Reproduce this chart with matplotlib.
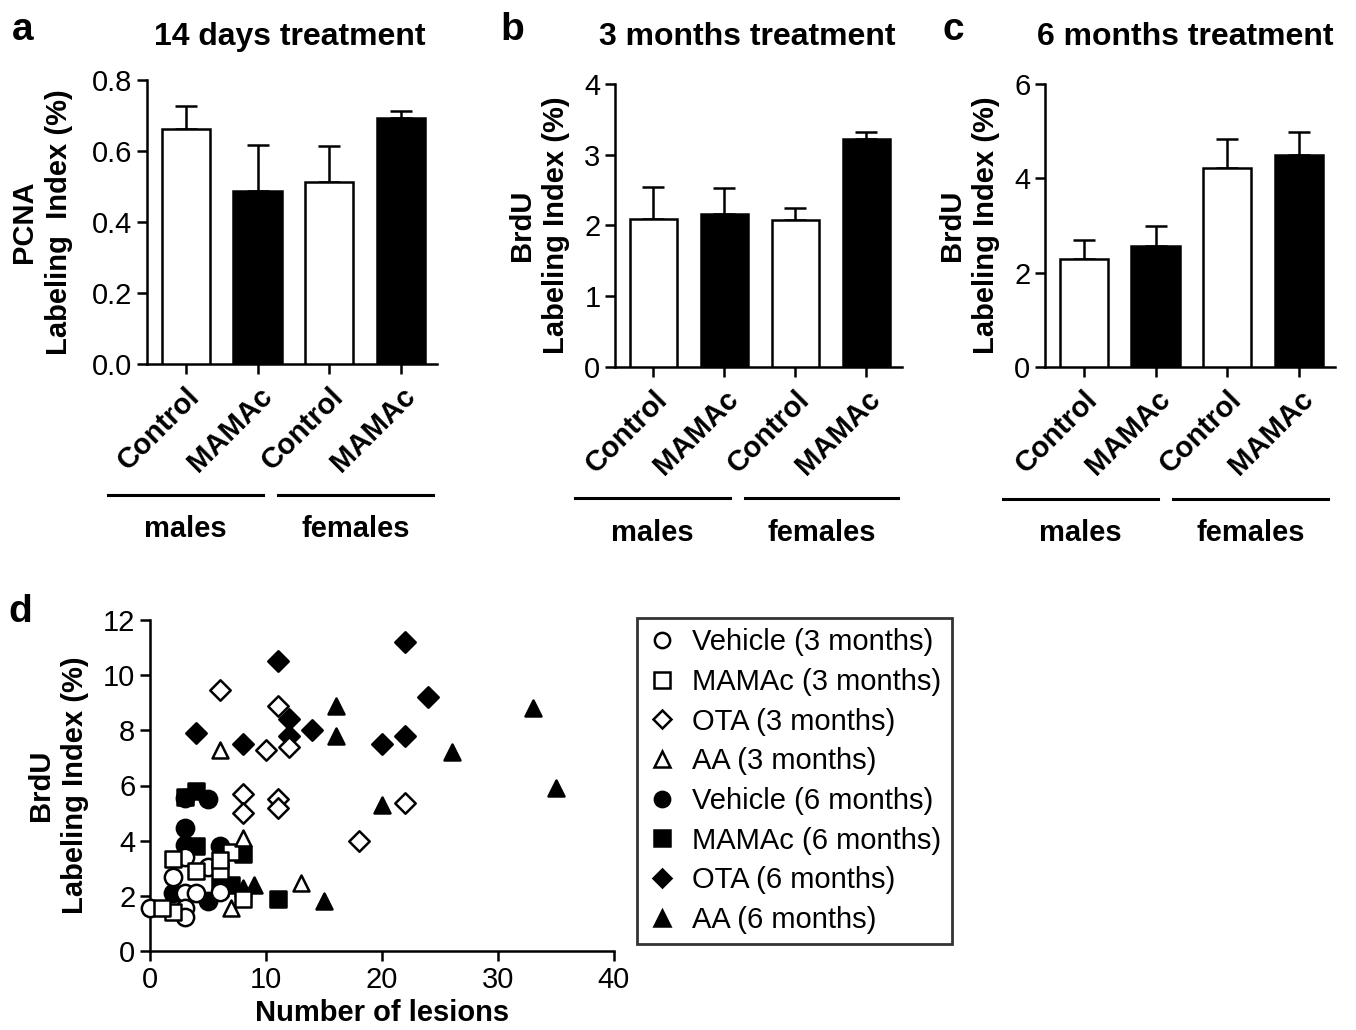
import matplotlib
matplotlib.use("Agg")
import matplotlib.pyplot as plt
from matplotlib.lines import Line2D

plt.rcParams['font.family'] = ['Liberation Sans', 'DejaVu Sans']

# ---------------- data ----------------
bar_labels = ["Control", "MAMAc", "Control", "MAMAc"]
bar_fill = ["white", "black", "white", "black"]

a_vals = [0.662, 0.488, 0.514, 0.692]
a_err = [0.066, 0.128, 0.099, 0.020]
b_vals = [2.085, 2.16, 2.075, 3.217]
b_err = [0.46, 0.37, 0.175, 0.108]
c_vals = [2.29, 2.57, 4.21, 4.49]
c_err = [0.40, 0.42, 0.63, 0.49]

veh3_x = [0, 2, 3, 5, 3, 3, 3, 6, 4]
veh3_y = [1.55, 2.7, 3.4, 3.05, 2.1, 1.55, 1.25, 2.15, 2.1]
mam3_x = [2, 4, 6, 7, 8, 2, 1, 6]
mam3_y = [3.35, 2.9, 2.9, 3.6, 1.9, 1.4, 1.55, 3.3]
ota3_x = [6, 11, 10, 12, 8, 8, 11, 11, 18, 22]
ota3_y = [9.45, 8.9, 7.3, 7.4, 5.7, 5.0, 5.5, 5.2, 4.0, 5.35]
aa3_x = [6, 13, 8, 7]
aa3_y = [7.3, 2.45, 4.1, 1.55]
veh6_x = [3, 5, 3, 3, 6, 5, 2]
veh6_y = [5.55, 5.5, 4.45, 3.85, 3.8, 1.8, 2.1]
mam6_x = [4, 3, 4, 8, 11, 7, 6]
mam6_y = [5.8, 5.6, 3.8, 3.5, 1.9, 2.4, 2.3]
ota6_x = [4, 11, 8, 12, 12, 14, 22, 24, 20, 22]
ota6_y = [7.9, 10.5, 7.5, 8.4, 7.8, 8.0, 11.2, 9.2, 7.5, 7.8]
aa6_x = [16, 16, 20, 26, 33, 35, 15, 9, 8]
aa6_y = [8.9, 7.8, 5.3, 7.2, 8.8, 5.9, 1.8, 2.4, 2.3]

W, H = 1356, 1030
fig = plt.figure(figsize=(W / 100, H / 100), dpi=100)

LW = 1.8
TICK_FS = 21
LAB_FS = 21


def fx(px):
    return px / W


def fy(py):
    return 1 - py / H


def bar_panel(rect, vals, errs, ylim, yticks, yfmt, title, title_x, ylabel,
              ylabelpad, letter, letter_xy, line_y, males_line, females_line,
              text_y):
    ax = fig.add_axes(rect)
    x = list(range(len(vals)))
    ax.bar(x, vals, width=0.67, color=bar_fill, edgecolor="black",
           linewidth=LW, zorder=3)
    ax.errorbar(x, vals, yerr=[[0] * len(errs), errs], fmt="none",
                ecolor="black", elinewidth=LW, capsize=8, capthick=LW,
                zorder=2)
    ax.set_xlim(-0.54, 3.5)
    ax.set_ylim(*ylim)
    ax.set_yticks(yticks)
    ax.set_yticklabels([yfmt.format(v) for v in yticks])
    ax.set_xticks(x)
    ax.set_xticklabels(bar_labels, rotation=45, ha="right", va="top",
                       rotation_mode="anchor", fontweight="bold",
                       fontsize=22)
    for s in ("top", "right"):
        ax.spines[s].set_visible(False)
    for s in ("left", "bottom"):
        ax.spines[s].set_linewidth(LW)
    ax.tick_params(axis="both", width=LW, length=7, labelsize=TICK_FS)
    ax.tick_params(axis="x", pad=6)
    ax.set_ylabel(ylabel, fontsize=LAB_FS, fontweight="bold",
                  linespacing=1.3, labelpad=ylabelpad)
    fig.text(fx(title_x), fy(37), title, fontsize=23, fontweight="bold",
             ha="center", va="center")
    fig.text(fx(letter_xy[0]), fy(letter_xy[1]), letter, fontsize=28,
             fontweight="bold", ha="left", va="center")
    for (x0, x1) in (males_line, females_line):
        fig.add_artist(Line2D([fx(x0), fx(x1)], [fy(line_y), fy(line_y)],
                              color="black", linewidth=2.2))
    fig.text(fx((males_line[0] + males_line[1]) / 2), fy(text_y), "males",
             fontsize=LAB_FS, fontweight="bold", ha="center", va="center")
    fig.text(fx((females_line[0] + females_line[1]) / 2), fy(text_y),
             "females", fontsize=LAB_FS, fontweight="bold", ha="center",
             va="center")
    return ax


bar_panel([fx(147), fy(364), fx(290), (364 - 80) / H], a_vals, a_err,
          (0, 0.8), [0, 0.2, 0.4, 0.6, 0.8], "{:.1f}", "14 days treatment",
          290, "PCNA\nLabeling  Index (%)", 14, "a", (12, 30), 495,
          (108, 263), (278, 433), 529)
bar_panel([fx(615), fy(367), fx(287), (367 - 84) / H], b_vals, b_err,
          (0, 4), [0, 1, 2, 3, 4], "{:d}", "3 months treatment", 747,
          "BrdU\nLabeling Index (%)", 10, "b", (500, 30), 498,
          (575, 730), (745, 898), 533)
bar_panel([fx(1045), fy(367), fx(290), (367 - 84) / H], c_vals, c_err,
          (0, 6), [0, 2, 4, 6], "{:d}", "6 months treatment", 1185,
          "BrdU\nLabeling Index (%)", 10, "c", (943, 30), 499,
          (1003, 1158), (1173, 1328), 533)

# ---------------- scatter panel d ----------------
ax = fig.add_axes([fx(150), fy(951), fx(464), 331 / H])
ms = 155
ew = 1.8
series = [
    (veh3_x, veh3_y, "o", "white", "Vehicle (3 months)"),
    (mam3_x, mam3_y, "s", "white", "MAMAc (3 months)"),
    (ota3_x, ota3_y, "D", "white", "OTA (3 months)"),
    (aa3_x, aa3_y, "^", "white", "AA (3 months)"),
    (veh6_x, veh6_y, "o", "black", "Vehicle (6 months)"),
    (mam6_x, mam6_y, "s", "black", "MAMAc (6 months)"),
    (ota6_x, ota6_y, "D", "black", "OTA (6 months)"),
    (aa6_x, aa6_y, "^", "black", "AA (6 months)"),
]
draw_order = [4, 5, 6, 7, 0, 1, 2, 3]
sizes = {"o": ms, "s": ms * 0.95, "D": ms * 0.7, "^": ms * 0.85}
for i in draw_order:
    xs, ys, m, fc, lab = series[i]
    ax.scatter(xs, ys, s=sizes[m], marker=m, facecolor=fc,
               edgecolor="black", linewidth=ew, clip_on=False, zorder=3)

ax.set_xlim(0, 40)
ax.set_ylim(0, 12)
ax.set_xticks([0, 10, 20, 30, 40])
ax.set_yticks([0, 2, 4, 6, 8, 10, 12])
for s in ("top", "right"):
    ax.spines[s].set_visible(False)
for s in ("left", "bottom"):
    ax.spines[s].set_linewidth(LW)
ax.tick_params(axis="both", width=LW, length=7, labelsize=TICK_FS)
ax.set_xlabel("Number of lesions", fontsize=LAB_FS, fontweight="bold",
              labelpad=4)
ax.set_ylabel("BrdU\nLabeling Index (%)", fontsize=LAB_FS,
              fontweight="bold", linespacing=1.3, labelpad=10)
fig.text(fx(8), fy(612), "d", fontsize=28, fontweight="bold",
         ha="left", va="center")

handles = []
for xs, ys, m, fc, lab in series:
    handles.append(Line2D([], [], linestyle="none", marker=m,
                          markersize=11 if m != "D" else 9,
                          markerfacecolor=fc, markeredgecolor="black",
                          markeredgewidth=1.8, label=lab))
leg = fig.legend(handles=handles, loc="upper left",
                 bbox_to_anchor=(fx(637), fy(618)), fontsize=21,
                 frameon=True, fancybox=False, edgecolor="black",
                 labelspacing=0.4, handletextpad=0.55, borderpad=0.35,
                 handlelength=1.0, borderaxespad=0)
leg.get_frame().set_linewidth(2)

fig.savefig("out.png", dpi=100, facecolor="white")
